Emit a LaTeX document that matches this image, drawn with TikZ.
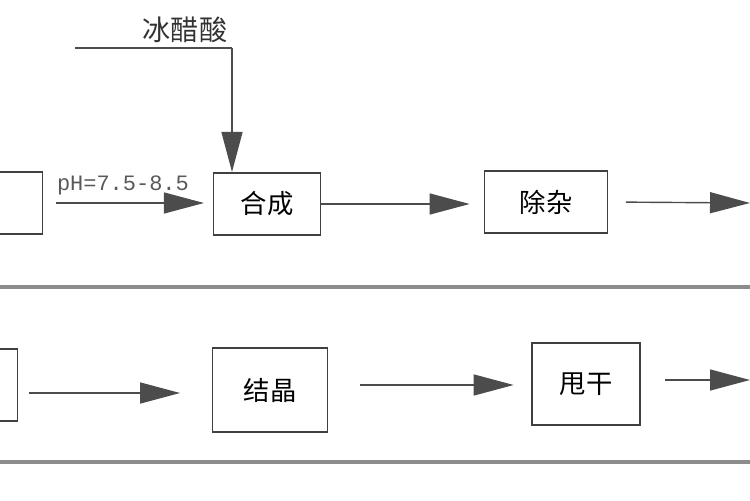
\documentclass[tikz,border=0pt]{standalone}
\usepackage{fontspec}
\setmainfont{Noto Sans CJK SC}
\setmonofont{Liberation Mono}
\usetikzlibrary{arrows.meta,positioning}
\tikzset{
  stepbox/.style={draw=black!75, line width=0.9pt, minimum height=1.25cm, font=\fontsize{15}{15}\selectfont, inner sep=0pt},
  flow/.style={draw=black!70, line width=0.8pt, -{Triangle[length=0.8cm,width=0.42cm]}},
  sepline/.style={draw=black!45, line width=1.8pt}
}
\begin{document}
\begin{tikzpicture}[x=0.02cm,y=-0.02cm]
\useasboundingbox (0,0) rectangle (750,500);
\clip (0,0) rectangle (750,500);
% top row
\node[stepbox, minimum width=2.5cm] (P) at (-20,203) {理};
\node[stepbox, minimum width=2.14cm] (HC) at (267,204) {合成};
\node[stepbox, minimum width=2.46cm] (CZ) at (546,202) {除杂};
\coordinate (TR) at (750,203);
\draw[flow, shorten <=7pt, shorten >=5pt] (P.east) -- (P.east -| HC.west) node[pos=0.47, above=1pt, font=\ttfamily\fontsize{12.5}{12.5}\selectfont, text=black!65] {pH=7.5-8.5};
\draw[flow, shorten >=8pt] (HC.east) -- (HC.east -| CZ.west);
\draw[flow, shorten <=10pt] (CZ.east) -- (TR);
% acetic acid feed
\node[font=\fontsize{16}{16}\selectfont, text=black!80] (BCS) at (185,30) {冰醋酸};
\coordinate (F0) at (75,48);
\coordinate (F1) at (232,48);
\draw[draw=black!70, line width=0.8pt] (F0) -- (F1);
\draw[flow] (F1) -- (F1 |- HC.north);
% separators
\coordinate (S1) at (0,287);
\coordinate (S2) at (0,462);
\draw[sepline] (S1) -- ++(750,0);
\draw[sepline] (S2) -- ++(750,0);
% bottom row
\node[stepbox, minimum width=1.5cm, minimum height=1.45cm] (Q) at (-20,385) {};
\node[stepbox, minimum width=2.3cm, minimum height=1.68cm] (JJ) at (270,390) {结晶};
\node[stepbox, minimum width=2.16cm, minimum height=1.64cm] (SG) at (586,384) {甩干};
\coordinate (BR) at (750,380);
\draw[flow, shorten <=6pt, shorten >=18pt] (Q.east |- 0,393) -- (JJ.west |- 0,393);
\draw[flow, shorten <=18pt, shorten >=10pt] (JJ.east |- 0,385) -- (SG.west |- 0,385);
\draw[flow, shorten <=14pt] (SG.east |- 0,380) -- (BR);
\end{tikzpicture}
\end{document}
